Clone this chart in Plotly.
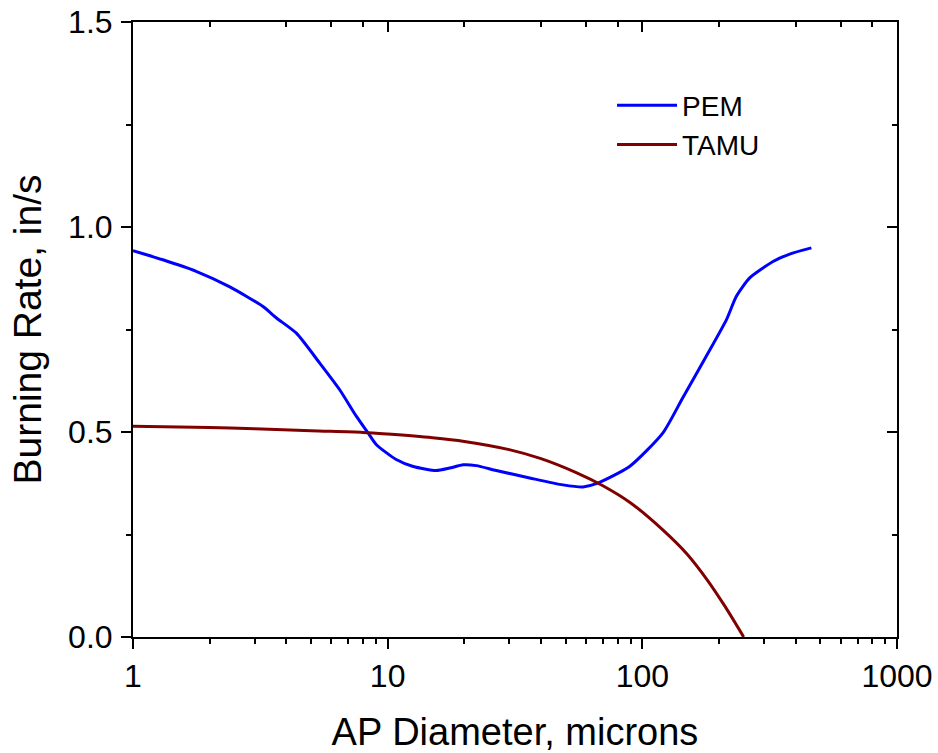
import plotly.graph_objects as go

# AP particle diameter (microns) and burning rate (in/s)
pem_diameter = [1.0, 1.31, 1.77, 2.40, 3.24, 3.66, 4.38, 5.41, 6.48, 7.54, 8.37, 9.03,
                10.8, 12.6, 15.5, 17.5, 19.8, 22.3, 26.7, 36.1, 48.8, 58.5, 65.9,
                89.1, 120.5, 144, 178, 214, 234, 264, 326, 379, 461]
pem_rate = [0.942, 0.920, 0.892, 0.854, 0.806, 0.778, 0.741, 0.668, 0.603, 0.538, 0.498, 0.469,
            0.433, 0.416, 0.406, 0.412, 0.420, 0.418, 0.406, 0.388, 0.371, 0.366, 0.374,
            0.416, 0.498, 0.583, 0.684, 0.774, 0.831, 0.876, 0.916, 0.934, 0.949]

tamu_diameter = [1, 2, 3, 5, 8, 10, 15, 20, 30, 40, 55, 70, 90, 120, 150, 180, 210, 250]
tamu_rate = [0.514, 0.511, 0.508, 0.503, 0.499, 0.495, 0.486, 0.477, 0.457, 0.435,
             0.401, 0.369, 0.327, 0.262, 0.202, 0.139, 0.077, 0.0]

x_major = [1, 10, 100, 1000]
x_labels = ["1", "10", "100", "1000"]
x_minor = [m * 10 ** d for d in range(3) for m in range(2, 10)]
x_minor_top = [m * 10 ** d for d in range(3) for m in (2, 4, 6, 8)]
y_major = [0.0, 0.5, 1.0, 1.5]
y_labels = ["0.0", "0.5", "1.0", "1.5"]
y_minor = [0.25, 0.75, 1.25]

FONT = "Arial, 'Liberation Sans', sans-serif"

fig = go.Figure()
fig.add_trace(go.Scatter(x=pem_diameter, y=pem_rate, mode="lines", name="PEM",
                         line=dict(color="#0000FF", width=3, shape="spline", smoothing=0.6)))
fig.add_trace(go.Scatter(x=tamu_diameter, y=tamu_rate, mode="lines", name="TAMU",
                         line=dict(color="#800000", width=3, shape="spline", smoothing=0.8)))
# helper trace so the mirrored top/right axes are drawn
fig.add_trace(go.Scatter(x=[None], y=[None], xaxis="x2", yaxis="y2", showlegend=False,
                         hoverinfo="skip"))

axis_common = dict(showline=True, linecolor="black", linewidth=2, showgrid=False,
                   zeroline=False, tickcolor="black", tickwidth=2, automargin=False)

fig.update_layout(
    width=938, height=753,
    margin=dict(l=133, r=41, t=22, b=116),
    paper_bgcolor="white", plot_bgcolor="white",
    font=dict(family=FONT, color="black", size=32),
    xaxis=dict(type="log", range=[0, 3], tickmode="array", tickvals=x_major, ticktext=x_labels,
               ticks="outside", ticklen=10,
               minor=dict(tickmode="array", tickvals=x_minor, ticks="outside", ticklen=5,
                          tickcolor="black", tickwidth=2),
               tickfont=dict(size=32), ticklabelstandoff=0,
               title=dict(text="AP Diameter, microns", font=dict(size=38), standoff=29),
               **axis_common),
    yaxis=dict(range=[0, 1.5], tickmode="array", tickvals=y_major, ticktext=y_labels,
               ticks="outside", ticklen=10,
               minor=dict(tickmode="array", tickvals=y_minor, ticks="outside", ticklen=5,
                          tickcolor="black", tickwidth=2),
               tickfont=dict(size=32), ticklabelstandoff=2,
               title=dict(text="Burning Rate, in/s", font=dict(size=39), standoff=14),
               **axis_common),
    xaxis2=dict(type="log", range=[0, 3], overlaying="x", side="top", anchor="y2",
                tickmode="array", tickvals=[10, 100], ticks="inside", ticklen=10,
                showticklabels=False,
                minor=dict(tickmode="array", tickvals=x_minor_top, ticks="inside", ticklen=5,
                           tickcolor="black", tickwidth=2),
                **axis_common),
    yaxis2=dict(range=[0, 1.5], overlaying="y", side="right", anchor="x2",
                tickmode="array", tickvals=y_major, ticks="inside", ticklen=10,
                showticklabels=False,
                minor=dict(tickmode="array", tickvals=y_minor, ticks="inside", ticklen=5,
                           tickcolor="black", tickwidth=2),
                **axis_common),
    legend=dict(x=0.627, y=0.905, xanchor="left", yanchor="top", bgcolor="rgba(0,0,0,0)",
                font=dict(size=28), tracegroupgap=0, itemwidth=60),
    showlegend=True,
)

fig.write_html("out.html")
